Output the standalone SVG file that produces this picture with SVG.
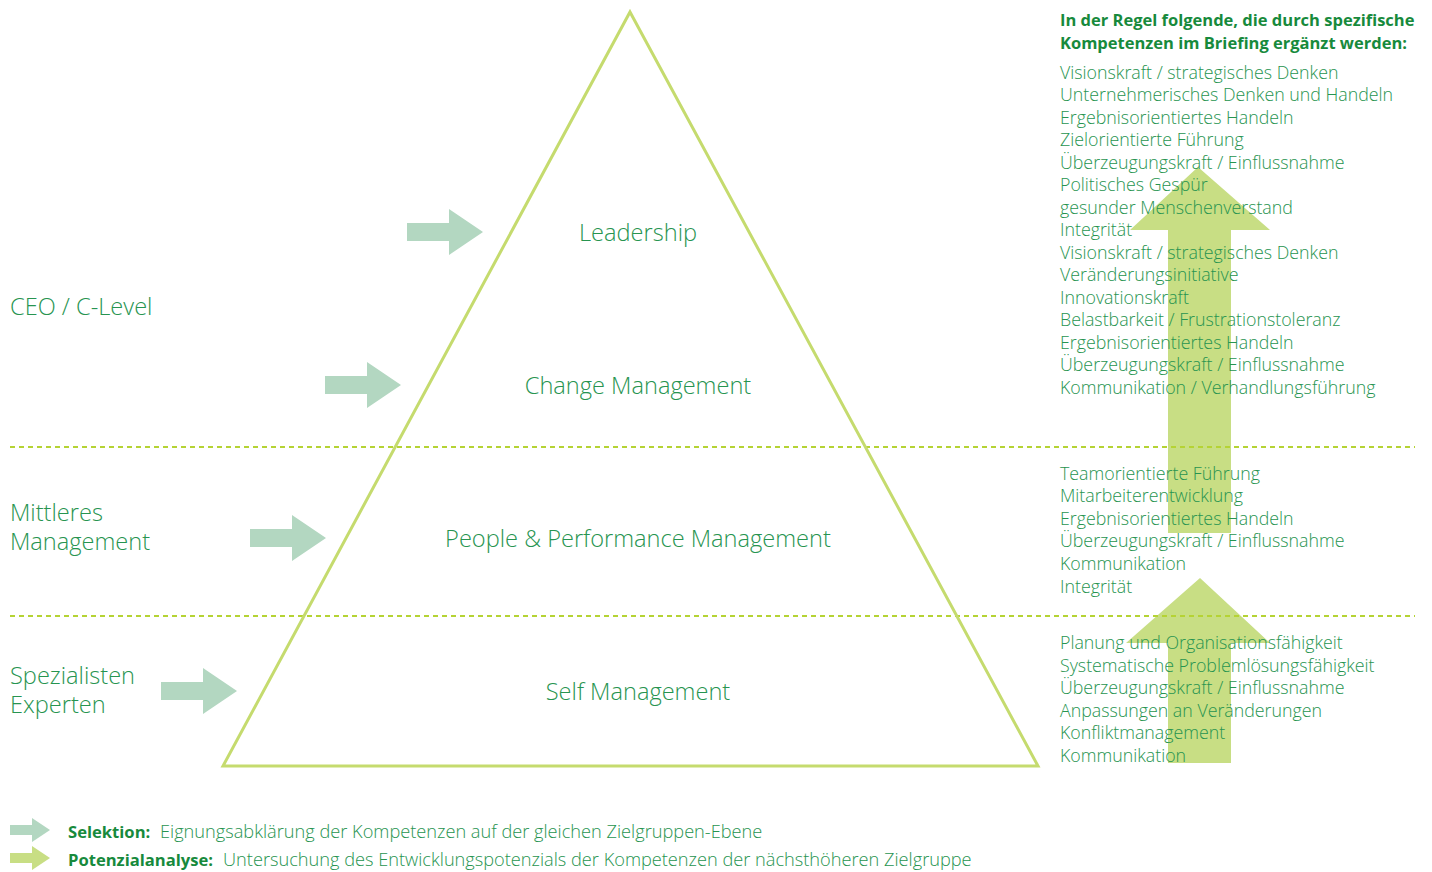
<svg xmlns="http://www.w3.org/2000/svg" width="1432" height="872" viewBox="0 0 1432 872">
<style>
.t{font-family:"Open Sans","Liberation Sans",sans-serif;font-weight:300;fill:#279450}
.lst{font-size:17.8px}
.lvl{font-size:23.6px}
.pl{font-size:23.6px;text-anchor:middle}
.hd{font-family:"Open Sans","Liberation Sans",sans-serif;font-weight:700;font-size:16.5px;fill:#178a3c}
.sel{fill:#b3d7c1}
.pot{fill:#c8de84}
.dash{stroke:#b5d334;stroke-width:2;stroke-dasharray:5 4;fill:none}
</style>
<defs>
<path id="arr" d="M0,-9 H42 V-23 L76,0 L42,23 V9 H0 Z"/>
</defs>
<rect width="1432" height="872" fill="#fff"/>
<g id="bigarrows">
<path class="pot" d="M1168,533 V230 H1130 L1198,167 L1270,230 H1231 V533 Z"/>
<path class="pot" d="M1168,763 V643 H1126 L1200,578 L1270,643 H1231 V763 Z"/>
</g>
<g id="dividers">
<line class="dash" x1="10" y1="447" x2="1415" y2="447"/>
<line class="dash" x1="10" y1="616" x2="1415" y2="616"/>
</g>
<g id="pyramid">
<path d="M630,12 L1038,766 L223,766 Z" fill="none" stroke="#c5db6e" stroke-width="3"/>
</g>
<g id="connectors">
<use href="#arr" class="sel" x="407" y="232"/>
<use href="#arr" class="sel" x="325" y="385"/>
<use href="#arr" class="sel" x="250" y="538"/>
<use href="#arr" class="sel" x="161" y="691"/>
</g>
<g id="level-leadership"><text class="t pl" x="638" y="241">Leadership</text></g>
<g id="level-change"><text class="t pl" x="638" y="394">Change Management</text></g>
<g id="level-people"><text class="t pl" x="638" y="547">People &amp; Performance Management</text></g>
<g id="level-self"><text class="t pl" x="638" y="700">Self Management</text></g>
<g id="group-ceo"><text class="t lvl" x="10" y="315">CEO / C-Level</text></g>
<g id="group-middle"><text class="t lvl" x="10" y="521">Mittleres</text><text class="t lvl" x="10" y="550">Management</text></g>
<g id="group-spec"><text class="t lvl" x="10" y="684">Spezialisten</text><text class="t lvl" x="10" y="713">Experten</text></g>
<g id="heading">
<text class="hd" x="1060" y="26">In der Regel folgende, die durch spezifische</text>
<text class="hd" x="1060" y="49">Kompetenzen im Briefing ergänzt werden:</text>
</g>
<g id="list-top" class="t lst">
<text x="1060" y="79">Visionskraft / strategisches Denken</text>
<text x="1060" y="101">Unternehmerisches Denken und Handeln</text>
<text x="1060" y="124">Ergebnisorientiertes Handeln</text>
<text x="1060" y="146">Zielorientierte Führung</text>
<text x="1060" y="169">Überzeugungskraft / Einflussnahme</text>
<text x="1060" y="191">Politisches Gespür</text>
<text x="1060" y="214">gesunder Menschenverstand</text>
<text x="1060" y="236">Integrität</text>
<text x="1060" y="259">Visionskraft / strategisches Denken</text>
<text x="1060" y="281">Veränderungsinitiative</text>
<text x="1060" y="304">Innovationskraft</text>
<text x="1060" y="326">Belastbarkeit / Frustrationstoleranz</text>
<text x="1060" y="349">Ergebnisorientiertes Handeln</text>
<text x="1060" y="371">Überzeugungskraft / Einflussnahme</text>
<text x="1060" y="394">Kommunikation / Verhandlungsführung</text>
</g>
<g id="list-mid" class="t lst">
<text x="1060" y="480">Teamorientierte Führung</text>
<text x="1060" y="502">Mitarbeiterentwicklung</text>
<text x="1060" y="525">Ergebnisorientiertes Handeln</text>
<text x="1060" y="547">Überzeugungskraft / Einflussnahme</text>
<text x="1060" y="570">Kommunikation</text>
<text x="1060" y="593">Integrität</text>
</g>
<g id="list-low" class="t lst">
<text x="1060" y="649">Planung und Organisationsfähigkeit</text>
<text x="1060" y="672">Systematische Problemlösungsfähigkeit</text>
<text x="1060" y="694">Überzeugungskraft / Einflussnahme</text>
<text x="1060" y="717">Anpassungen an Veränderungen</text>
<text x="1060" y="739">Konfliktmanagement</text>
<text x="1060" y="762">Kommunikation</text>
</g>
<g id="legend">
<path class="sel" d="M10,825 H32 V818 L50,830 L32,842 V835 H10 Z"/>
<path class="pot" d="M10,853 H32 V846 L50,858 L32,870 V863 H10 Z"/>
<text x="68" y="838"><tspan class="hd" style="font-size:16.6px">Selektion:</tspan><tspan class="t" style="font-size:18.2px" x="160">Eignungsabklärung der Kompetenzen auf der gleichen Zielgruppen-Ebene</tspan></text>
<text x="68" y="866"><tspan class="hd" style="font-size:16.6px">Potenzialanalyse:</tspan><tspan class="t" style="font-size:18.2px" x="223">Untersuchung des Entwicklungspotenzials der Kompetenzen der nächsthöheren Zielgruppe</tspan></text>
</g>
</svg>
